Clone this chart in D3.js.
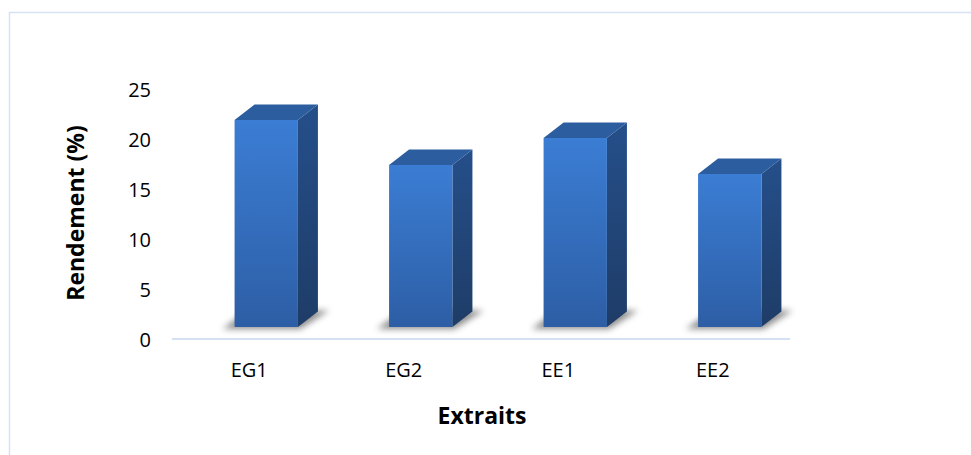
<!DOCTYPE html>
<html>
<head>
<meta charset="utf-8">
<script src="https://cdn.jsdelivr.net/npm/d3@7/dist/d3.min.js"></script>
<style>
  html, body { margin: 0; padding: 0; background: #fff; }
  svg { display: block; }
  text { font-family: "Open Sans", Lato, sans-serif; fill: #000; }
</style>
</head>
<body>
<svg id="chart" width="971" height="455"></svg>
<script>
// Extraction yield per extract
const categories = ["EG1", "EG2", "EE1", "EE2"];
const rendement = [20.7, 16.2, 18.9, 15.3];
const yTicks = [0, 5, 10, 15, 20, 25];
const yTitle = "Rendement (%)";
const xTitle = "Extraits";

const W = 971, H = 455;
const FONT = "'Open Sans', Lato, sans-serif";
const svg = d3.select("#chart");

// chart frame
svg.append("rect")
  .attr("x", 9.5).attr("y", 12.5)
  .attr("width", W + 20).attr("height", H + 20)
  .attr("fill", "none").attr("stroke", "#d6e2f3").attr("stroke-width", 1.5);

const x = d3.scaleBand().domain(categories).range([172, 790]).padding(0);
const y = d3.scaleLinear().domain([0, 25]).range([339, 89]);

// oblique depth of the 3D columns and their placement on the floor
const depth = { dx: 20, dy: -15.5 };
const floorShift = { dx: 17, dy: -12 };
const barW = x.bandwidth() * 0.41;

const defs = svg.append("defs");
const gFront = defs.append("linearGradient").attr("id", "gFront")
  .attr("x1", 0).attr("y1", 0).attr("x2", 0).attr("y2", 1);
gFront.append("stop").attr("offset", "0%").attr("stop-color", "#3b7dd4");
gFront.append("stop").attr("offset", "100%").attr("stop-color", "#2d5ea5");
const gSide = defs.append("linearGradient").attr("id", "gSide")
  .attr("x1", 0).attr("y1", 0).attr("x2", 0).attr("y2", 1);
gSide.append("stop").attr("offset", "0%").attr("stop-color", "#254f8a");
gSide.append("stop").attr("offset", "100%").attr("stop-color", "#1e3c67");
defs.append("filter").attr("id", "blur")
  .attr("x", "-30%").attr("y", "-100%").attr("width", "160%").attr("height", "300%")
  .append("feGaussianBlur").attr("stdDeviation", 3);

// axis line along the front edge of the floor
svg.append("line")
  .attr("x1", x.range()[0]).attr("x2", x.range()[1])
  .attr("y1", y(0)).attr("y2", y(0))
  .attr("stroke", "#d4e1f2").attr("stroke-width", 2);

// value axis labels
const yAxis = d3.axisLeft(y).tickValues(yTicks).tickSize(0).tickPadding(0);
const yG = svg.append("g").attr("transform", "translate(151,1)").call(yAxis);
yG.select(".domain").remove();
yG.selectAll("text").attr("font-size", 20).attr("font-family", FONT).attr("fill", "#000");

// category labels
const xAxis = d3.axisBottom(x).tickSize(0).tickPadding(0);
const xG = svg.append("g").attr("transform", "translate(0,363)").call(xAxis);
xG.select(".domain").remove();
xG.selectAll("text").attr("font-size", 20).attr("font-family", FONT).attr("fill", "#000");

const bars = svg.append("g");
categories.forEach((c, i) => {
  const v = rendement[i];
  const x0 = x(c) + x.bandwidth() / 2 + floorShift.dx - barW / 2;
  const x1 = x0 + barW;
  const yb = y(0) + floorShift.dy;
  const yt = y(v) + floorShift.dy;
  const g = bars.append("g");
  // soft shadow on the floor
  const pad = 7;
  g.append("polygon")
    .attr("points", [
      [x0 - pad - 5, yb + 2], [x1 + 2, yb + 2],
      [x1 + depth.dx + pad + 4, yb + depth.dy - 1], [x0 + depth.dx - pad, yb + depth.dy - 1]
    ].map(p => p.join(",")).join(" "))
    .attr("fill", "#6f6f6f").attr("opacity", 0.8).attr("filter", "url(#blur)");
  // right side face
  g.append("polygon")
    .attr("points", [[x1, yt], [x1 + depth.dx, yt + depth.dy], [x1 + depth.dx, yb + depth.dy], [x1, yb]]
      .map(p => p.join(",")).join(" "))
    .attr("fill", "url(#gSide)");
  // top face
  g.append("polygon")
    .attr("points", [[x0, yt], [x1, yt], [x1 + depth.dx, yt + depth.dy], [x0 + depth.dx, yt + depth.dy]]
      .map(p => p.join(",")).join(" "))
    .attr("fill", "#2c5d9e");
  // front face
  g.append("rect")
    .attr("x", x0).attr("y", yt).attr("width", barW).attr("height", yb - yt)
    .attr("fill", "url(#gFront)");
});

// axis titles
svg.append("text")
  .attr("transform", "translate(84,213) rotate(-90)")
  .attr("text-anchor", "middle")
  .attr("font-family", FONT)
  .attr("font-size", 23).attr("font-weight", "bold")
  .text(yTitle);
svg.append("text")
  .attr("x", 482).attr("y", 424)
  .attr("text-anchor", "middle")
  .attr("font-family", FONT)
  .attr("font-size", 23).attr("font-weight", "bold")
  .text(xTitle);
</script>
</body>
</html>
